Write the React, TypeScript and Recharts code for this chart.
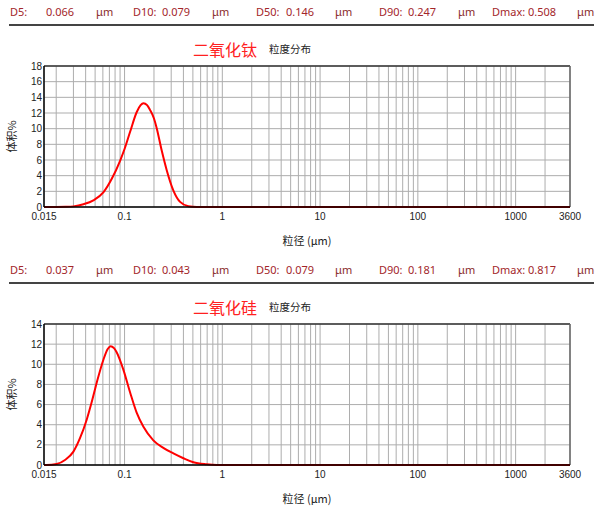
import React from 'react';
import {
  LineChart,
  Line,
  XAxis,
  YAxis,
  CartesianGrid,
  ReferenceLine,
} from 'recharts';

// header stats
const statLabels = ['D5:', 'D10:', 'D50:', 'D90:', 'Dmax:'];
const tio2Stats = ['0.066', '0.079', '0.146', '0.247', '0.508'];
const sio2Stats = ['0.037', '0.043', '0.079', '0.181', '0.817'];

// particle size (μm) and volume %
const tio2Size = [0.015, 0.02, 0.025, 0.03, 0.038, 0.048, 0.061, 0.074, 0.09, 0.1, 0.114, 0.133, 0.146, 0.156, 0.17, 0.182, 0.2, 0.213, 0.24, 0.27, 0.316, 0.37, 0.45, 0.55, 1, 3600];
const tio2Volume = [0, 0, 0.02, 0.08, 0.35, 0.85, 1.9, 3.6, 5.9, 7.4, 9.6, 12.1, 13.0, 13.25, 13.0, 12.4, 11.3, 10.1, 7.2, 4.7, 2.1, 0.65, 0.1, 0, 0, 0];

const sio2Size = [0.015, 0.016, 0.0202, 0.0246, 0.03, 0.035, 0.041, 0.046, 0.052, 0.061, 0.067, 0.072, 0.078, 0.083, 0.097, 0.114, 0.133, 0.156, 0.197, 0.249, 0.316, 0.4, 0.506, 0.69, 0.88, 1, 3600];
const sio2Volume = [0, 0, 0.1, 0.5, 1.33, 2.66, 4.5, 6.2, 8.2, 10.5, 11.5, 11.8, 11.6, 11.2, 9.5, 7.2, 5.2, 3.8, 2.45, 1.7, 1.15, 0.67, 0.27, 0.07, 0, 0, 0];

const xLabels = [0.015, 0.1, 1, 10, 100, 1000, 3600];
const tio2YTicks = [0, 2, 4, 6, 8, 10, 12, 14, 16, 18];
const sio2YTicks = [0, 2, 4, 6, 8, 10, 12, 14];

const decades = [0.01, 0.1, 1, 10, 100, 1000];
const steps = [1, 2, 3, 4, 5, 6, 7, 8, 9];
const gridTicks = [
  0.015,
  ...decades
    .flatMap((d) => steps.map((s) => +(d * s).toPrecision(3)))
    .filter((v) => v > 0.015 && v <= 2000),
  3600,
];

const labelX = [10, 133, 256, 379, 492];
const valueX = [46, 162, 286, 408, 528];
const unitX = [96, 212, 335, 458, 577];

const latin = '"Noto Sans", "Open Sans", sans-serif';
const cjk = '"Noto Sans CJK SC", "Noto Sans", sans-serif';
const tickFont = '"Liberation Sans", Arial, sans-serif';

interface PanelProps {
  top: number;
  title: string;
  stats: string[];
  sizes: number[];
  volumes: number[];
  yTicks: number[];
}

const Panel: React.FC<PanelProps> = ({ top, title, stats, sizes, volumes, yTicks }) => {
  const data = sizes.map((size, i) => ({ size, volume: volumes[i] }));
  const yMax = yTicks[yTicks.length - 1];

  const text = (x: number, y: number, s: string, style: React.CSSProperties) => (
    <div key={`${s}-${x}`} style={{ position: 'absolute', left: x, top: y, whiteSpace: 'nowrap', ...style }}>
      {s}
    </div>
  );

  return (
    <div style={{ position: 'absolute', left: 0, top, width: 597, height: 258 }}>
      {statLabels.map((l, i) => text(labelX[i], 4, l, { fontFamily: latin, fontSize: 11, lineHeight: '15px', color: '#a3262a' }))}
      {stats.map((v, i) => text(valueX[i], 4, v, { fontFamily: latin, fontSize: 11, lineHeight: '15px', color: '#a3262a' }))}
      {unitX.map((x) => text(x, 4, 'μm', { fontFamily: latin, fontSize: 11, lineHeight: '15px', color: '#8a2a2a' }))}
      <div style={{ position: 'absolute', left: 9, top: 24, width: 585, height: 2, background: '#444' }} />
      {text(193, 38, title, { fontFamily: cjk, fontSize: 16, lineHeight: '22px', color: '#ff2020' })}
      {text(269, 42, '粒度分布', { fontFamily: cjk, fontSize: 10.5, lineHeight: '14px', color: '#222' })}

      <LineChart
        width={597}
        height={258}
        data={data}
        margin={{ top: 66, right: 27, bottom: 11, left: 0 }}
        style={{ position: 'absolute', left: 0, top: 0 }}
      >
        <CartesianGrid stroke="#adadad" strokeWidth={1} />
        <XAxis
          dataKey="size"
          type="number"
          scale="log"
          domain={[0.015, 3600]}
          ticks={gridTicks}
          interval={0}
          allowDataOverflow
          tickFormatter={(v: number) => (xLabels.includes(v) ? String(v) : '')}
          tickLine={false}
          tickSize={0}
          tickMargin={6}
          axisLine={{ stroke: '#000', strokeWidth: 1.5 }}
          tick={{ fontSize: 10, fill: '#222', fontFamily: tickFont }}
          height={40}
          label={{ value: '粒径 (μm)', position: 'insideBottom', offset: 2, fontSize: 11, fill: '#222', fontFamily: cjk }}
        />
        <YAxis
          type="number"
          domain={[0, yMax]}
          ticks={yTicks}
          interval={0}
          width={44}
          tickLine={false}
          tickSize={0}
          tickMargin={2}
          axisLine={{ stroke: '#000', strokeWidth: 1.5 }}
          tick={{ fontSize: 10, fill: '#222', fontFamily: tickFont }}
          label={{ value: '体积%', angle: -90, position: 'insideLeft', offset: 12, fontSize: 11, fill: '#222', fontFamily: cjk, style: { textAnchor: 'middle' } }}
        />
        <ReferenceLine y={yMax} stroke="#333" strokeWidth={1.5} />
        <ReferenceLine x={3600} stroke="#666" strokeWidth={1.5} />
        <Line
          type="monotone"
          dataKey="volume"
          stroke="#ff0000"
          strokeWidth={2}
          dot={false}
          isAnimationActive={false}
        />
      </LineChart>
    </div>
  );
};

export default function App() {
  return (
    <div style={{ position: 'absolute', left: 0, top: 0, width: 597, height: 509, overflow: 'hidden', background: '#fff' }}>
      <Panel top={0} title="二氧化钛" stats={tio2Stats} sizes={tio2Size} volumes={tio2Volume} yTicks={tio2YTicks} />
      <Panel top={258} title="二氧化硅" stats={sio2Stats} sizes={sio2Size} volumes={sio2Volume} yTicks={sio2YTicks} />
    </div>
  );
}
